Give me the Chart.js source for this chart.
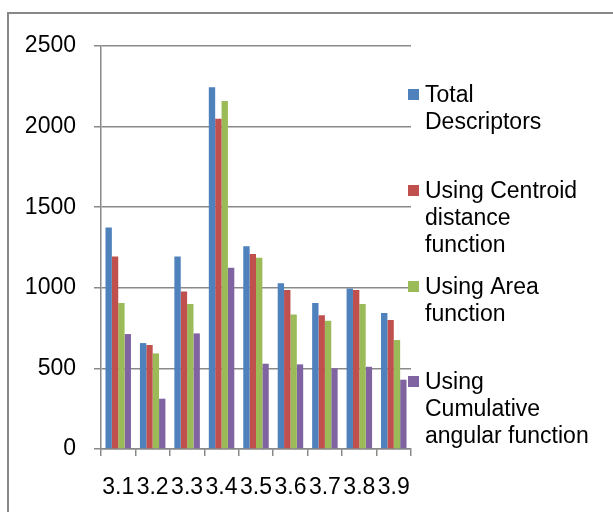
<!DOCTYPE html>
<html>
<head>
<meta charset="utf-8">
<script src="https://cdn.jsdelivr.net/npm/chart.js@4"></script>
<style>
  html, body { margin: 0; padding: 0; background: #fff; overflow: hidden; }
  body { width: 613px; height: 512px; position: relative; }
  #frame {
    position: absolute; left: 7px; top: 12px;
    width: 700px; height: 600px;
    border: 2px solid #878787;
  }
  #chart { position: absolute; left: 0; top: 0; }
</style>
</head>
<body>
<div id="frame"></div>
<canvas id="chart" width="613" height="512"></canvas>
<script>
const categories = ["3.1", "3.2", "3.3", "3.4", "3.5", "3.6", "3.7", "3.8", "3.9"];

const totalDescriptors = [1374, 657, 1194, 2244, 1258, 1029, 905, 996, 843];
const centroidDistance = [1194, 645, 977, 2048, 1209, 986, 829, 986, 800];
const areaFunction = [905, 593, 899, 2159, 1186, 835, 795, 899, 676];
const cumulativeAngular = [713, 312, 717, 1124, 529, 525, 500, 510, 430];

const seriesNames = [
  ["Total", "Descriptors"],
  ["Using Centroid", "distance", "function"],
  ["Using Area", "function"],
  ["Using", "Cumulative", "angular function"],
];
const seriesColors = ["#4F81BD", "#C0504D", "#9BBB59", "#8064A2"];

const yTicks = [0, 500, 1000, 1500, 2000, 2500];

const FONT = { family: "'Liberation Sans', Arial, sans-serif", size: 23 };
const GRID = "#898989";

// legend drawn by hand, Excel wraps the series names over several lines
const sideLegend = {
  id: "sideLegend",
  afterDraw(chart) {
    const ctx = chart.ctx;
    const firstLine = [102, 198, 294, 389];
    ctx.save();
    ctx.font = FONT.size + "px " + FONT.family;
    ctx.textBaseline = "alphabetic";
    chart.data.datasets.forEach((ds, i) => {
      const y = firstLine[i];
      ctx.fillStyle = ds.backgroundColor;
      ctx.fillRect(408, y - 13, 11, 11);
      ctx.fillStyle = "#000";
      seriesNames[i].forEach((line, j) => {
        ctx.fillText(line, 425, y + j * 27);
      });
    });
    ctx.restore();
  },
};

const datasetsFrom = [totalDescriptors, centroidDistance, areaFunction, cumulativeAngular];

new Chart(document.getElementById("chart"), {
  type: "bar",
  data: {
    labels: categories,
    datasets: datasetsFrom.map((values, i) => ({
      label: seriesNames[i].join(" "),
      data: values,
      backgroundColor: seriesColors[i],
      borderWidth: 0,
      categoryPercentage: 0.74,
      barPercentage: 1,
    })),
  },
  options: {
    responsive: false,
    animation: false,
    layout: { padding: { top: 46, right: 202, left: 0, bottom: 0 } },
    plugins: {
      legend: { display: false },
      tooltip: { enabled: false },
    },
    scales: {
      x: {
        afterFit: (scale) => { scale.height = 63; },
        grid: {
          offset: true,
          drawOnChartArea: false,
          drawTicks: true,
          tickLength: 7,
          color: GRID,
          lineWidth: 1.5,
        },
        border: { color: GRID, width: 1.5 },
        ticks: {
          color: "#000",
          font: FONT,
          padding: 18,
          maxRotation: 0,
          autoSkip: false,
        },
      },
      y: {
        min: 0,
        max: 2500,
        afterFit: (scale) => { scale.width = 101; },
        afterBuildTicks: (scale) => { scale.ticks = yTicks.map((v) => ({ value: v })); },
        grid: {
          color: GRID,
          lineWidth: 1.5,
          tickLength: 7,
        },
        border: { color: GRID, width: 1.5 },
        ticks: {
          color: "#000",
          font: FONT,
          padding: 18,
          callback: (v) => String(v),
        },
      },
    },
  },
  plugins: [sideLegend],
});
</script>
</body>
</html>
